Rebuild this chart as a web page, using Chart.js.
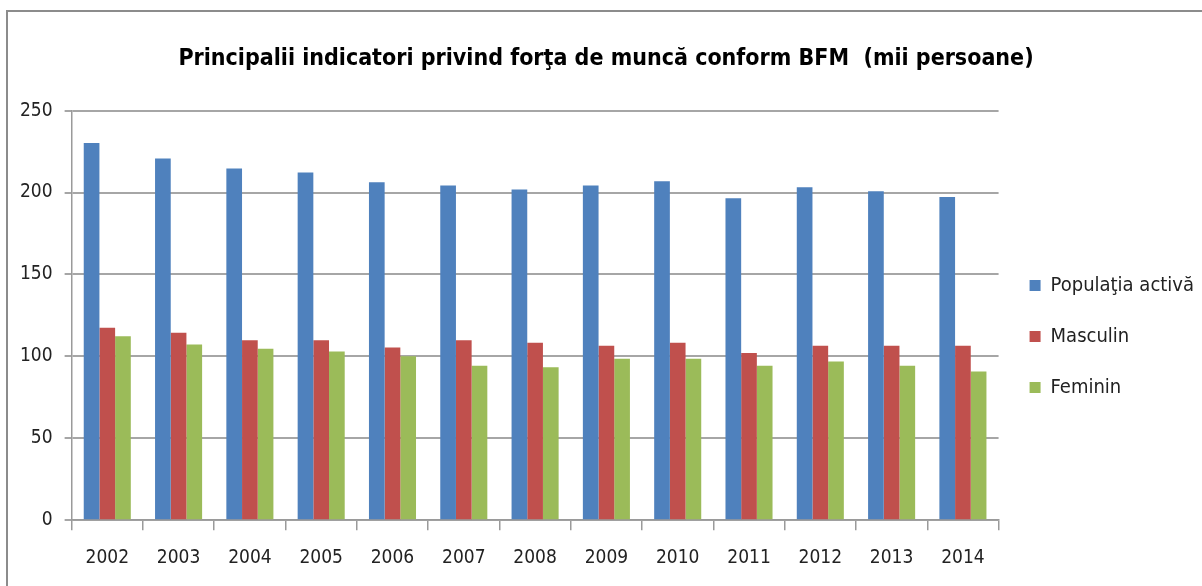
<!DOCTYPE html>
<html>
<head>
<meta charset="utf-8">
<script src="https://cdn.jsdelivr.net/npm/chart.js@4/dist/chart.umd.min.js"></script>
<style>
  html, body { margin: 0; padding: 0; background: #fff; }
  #wrap { position: relative; width: 1202px; height: 586px; overflow: hidden; }
  #frame { position: absolute; left: 6px; top: 10px; width: 1210px; height: 600px; border: 2px solid #8c8c8c; box-sizing: border-box; }
  #chartBox { position: absolute; left: 0; top: 0; width: 1202px; height: 586px; }
</style>
</head>
<body>
<div id="wrap">
  <div id="frame"></div>
  <div id="chartBox"><canvas id="chartForta"></canvas></div>
</div>
<script>
/* date (mii persoane) */
const years = ['2002', '2003', '2004', '2005', '2006', '2007', '2008', '2009', '2010', '2011', '2012', '2013', '2014'];
const populatiaActiva = [230.2, 220.8, 214.7, 212.2, 206.3, 204.3, 201.8, 204.3, 206.9, 196.5, 203.2, 200.8, 197.3];
const masculin = [117.4, 114.4, 109.9, 109.9, 105.4, 109.9, 108.3, 106.4, 108.3, 102.1, 106.4, 106.4, 106.4];
const feminin = [112.3, 107.2, 104.6, 102.9, 100.1, 94.2, 93.3, 98.5, 98.5, 94.2, 96.8, 94.2, 90.7];
const yTicks = [0, 50, 100, 150, 200, 250];

const narrow = '"DejaVu Sans Condensed", "Liberation Sans Narrow", "Roboto Condensed", sans-serif';
const axisFont = { family: narrow, size: 19 };

const ctx = document.getElementById('chartForta');
new Chart(ctx, {
    type: 'bar',
    data: {
        labels: years,
        datasets: [
            { label: 'Populaţia activă', data: populatiaActiva, backgroundColor: '#4f81bd' },
            { label: 'Masculin', data: masculin, backgroundColor: '#c0504d' },
            { label: 'Feminin', data: feminin, backgroundColor: '#9bbb59' },
        ],
    },
    options: {
        responsive: true,
        maintainAspectRatio: false,
        animation: false,
        layout: { padding: { left: 8, top: 20, right: -2, bottom: 1 } },
        datasets: { bar: { categoryPercentage: 0.66, barPercentage: 1 } },
        plugins: {
            title: {
                display: true,
                text: 'Principalii indicatori privind forţa de muncă conform BFM  (mii persoane)',
                color: '#000',
                font: { family: narrow, size: 23, weight: 'bold' },
                padding: { top: 25, bottom: 38 },
            },
            legend: {
                position: 'right',
                // titlu gol doar ca sa coboare legenda
                title: { display: true, text: '', font: { size: 10 }, padding: { top: 28, bottom: 28 } },
                labels: {
                    color: '#222',
                    font: { family: narrow, size: 20 },
                    boxWidth: 11,
                    boxHeight: 11,
                    padding: 31,
                },
            },
            tooltip: { enabled: false },
        },
        scales: {
            x: {
                grid: { offset: true, drawOnChartArea: false, color: '#9a9a9a', lineWidth: 1.5, tickLength: 10 },
                border: { color: '#9a9a9a', width: 1.5 },
                ticks: { color: '#222', font: axisFont, padding: 16, maxRotation: 0 },
            },
            y: {
                min: 0,
                max: 250,
                afterBuildTicks: (axis) => { axis.ticks = yTicks.map(v => ({ value: v })); },
                grid: { color: '#a6a6a6', lineWidth: 2, tickLength: 7 },
                border: { color: '#9a9a9a', width: 1.5 },
                ticks: { color: '#222', font: axisFont, padding: 12 },
            },
        },
    },
});
</script>
</body>
</html>
